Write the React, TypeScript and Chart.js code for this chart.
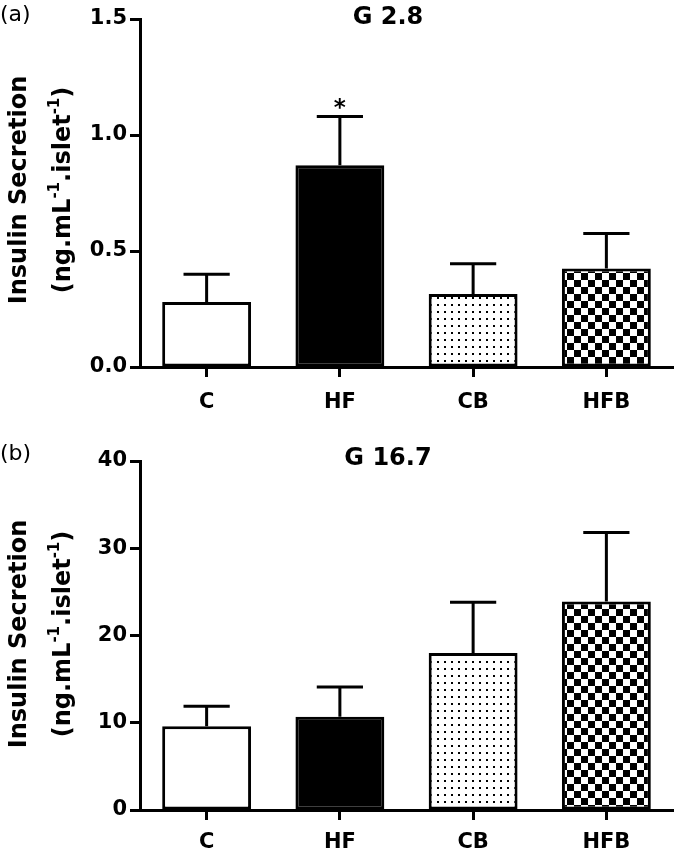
import React, { useEffect, useRef } from "react";
import { Chart, registerables } from "chart.js";

Chart.register(...registerables);

// ---------- data ----------
const categories = ["C", "HF", "CB", "HFB"];

const g28Means = [0.28, 0.87, 0.315, 0.425];
const g28Sem = [0.12, 0.21, 0.13, 0.15];
const g28Marks = ["", "*", "", ""];
const g28Ticks = [0, 0.5, 1.0, 1.5];

const g167Means = [9.6, 10.7, 18.0, 23.9];
const g167Sem = [2.3, 3.4, 5.8, 7.9];
const g167Marks = ["", "", "", ""];
const g167Ticks = [0, 10, 20, 30, 40];

const panelLabels = ["(a)", "(b)"];
const panelTitles = ["G 2.8", "G 16.7"];
const yTitleLine1 = "Insulin Secretion";
const yTitleLine2: [string, boolean][] = [
  ["(ng.mL", false],
  ["-1", true],
  [".islet", false],
  ["-1", true],
  [")", false],
];

const FAMILY = "'DejaVu Sans', 'Liberation Sans', sans-serif";

function makeDots(): CanvasPattern | string {
  const c = document.createElement("canvas");
  c.width = 7;
  c.height = 7;
  const x = c.getContext("2d");
  if (!x) return "#fff";
  x.fillStyle = "#fff";
  x.fillRect(0, 0, 7, 7);
  x.fillStyle = "#000";
  x.fillRect(3, 3, 2, 2);
  return x.createPattern(c, "repeat") || "#fff";
}

function makeChecker(): CanvasPattern | string {
  const c = document.createElement("canvas");
  c.width = 14;
  c.height = 14;
  const x = c.getContext("2d");
  if (!x) return "#000";
  x.fillStyle = "#fff";
  x.fillRect(0, 0, 14, 14);
  x.fillStyle = "#000";
  x.fillRect(0, 0, 7, 7);
  x.fillRect(7, 7, 7, 7);
  return x.createPattern(c, "repeat") || "#000";
}

type PanelCfg = {
  means: number[];
  sem: number[];
  marks: string[];
  ticks: number[];
  decimals: number;
  label: string;
  title: string;
  padTop: number;
  xHeight: number;
  xPad: number;
  labelBaseline: number;
  titleBaseline: number;
  yTitleCy: number;
};

function drawYTitle(ctx: CanvasRenderingContext2D, cy: number) {
  ctx.save();
  ctx.translate(0, cy);
  ctx.rotate(-Math.PI / 2);
  ctx.fillStyle = "#000";
  ctx.textBaseline = "alphabetic";
  ctx.textAlign = "center";
  const mainFont = `bold 24px ${FAMILY}`;
  const supFont = `bold 15px ${FAMILY}`;
  ctx.font = mainFont;
  ctx.fillText(yTitleLine1, 0, 26);
  let total = 0;
  const widths = yTitleLine2.map(([t, sup]) => {
    ctx.font = sup ? supFont : mainFont;
    const w = ctx.measureText(t).width;
    total += w;
    return w;
  });
  ctx.textAlign = "left";
  let u = -total / 2;
  yTitleLine2.forEach(([t, sup], i) => {
    ctx.font = sup ? supFont : mainFont;
    ctx.fillText(t, u, sup ? 59 : 70);
    u += widths[i];
  });
  ctx.restore();
}

function buildChart(canvas: HTMLCanvasElement, cfg: PanelCfg) {
  const fills = ["#ffffff", "#000000", makeDots(), makeChecker()];
  const decor = {
    id: "decor",
    afterDatasetsDraw(chart: any) {
      const ctx: CanvasRenderingContext2D = chart.ctx;
      const meta = chart.getDatasetMeta(0);
      const yScale = chart.scales.y;
      ctx.save();
      ctx.strokeStyle = "#000";
      ctx.lineWidth = 3;
      ctx.lineCap = "butt";
      meta.data.forEach((bar: any, i: number) => {
        const top = yScale.getPixelForValue(cfg.means[i] + cfg.sem[i]);
        const capHalf = bar.width * 0.26;
        ctx.beginPath();
        ctx.moveTo(bar.x, bar.y);
        ctx.lineTo(bar.x, top);
        ctx.moveTo(bar.x - capHalf, top);
        ctx.lineTo(bar.x + capHalf, top);
        ctx.stroke();
        if (cfg.marks[i]) {
          ctx.fillStyle = "#000";
          ctx.font = `bold 23px ${FAMILY}`;
          ctx.textAlign = "center";
          ctx.textBaseline = "alphabetic";
          ctx.fillText(cfg.marks[i], bar.x, top - 1);
        }
      });
      ctx.restore();
    },
    afterDraw(chart: any) {
      const ctx: CanvasRenderingContext2D = chart.ctx;
      ctx.save();
      ctx.fillStyle = "#000";
      ctx.textBaseline = "alphabetic";
      ctx.textAlign = "left";
      ctx.font = `22px ${FAMILY}`;
      ctx.fillText(cfg.label, 0, cfg.labelBaseline);
      ctx.textAlign = "center";
      ctx.font = `bold 24px ${FAMILY}`;
      ctx.fillText(cfg.title, 388, cfg.titleBaseline);
      ctx.restore();
      drawYTitle(ctx, cfg.yTitleCy);
    },
  };

  return new Chart(canvas, {
    type: "bar",
    data: {
      labels: categories,
      datasets: [
        {
          data: cfg.means,
          backgroundColor: fills as any,
          borderColor: "#000",
          borderWidth: 3,
          borderSkipped: false,
          barPercentage: 0.667,
          categoryPercentage: 1,
        },
      ],
    },
    options: {
      animation: false,
      responsive: false,
      maintainAspectRatio: false,
      devicePixelRatio: 1,
      layout: { padding: { top: cfg.padTop, right: 7, left: 0, bottom: 0 } },
      plugins: {
        legend: { display: false },
        tooltip: { enabled: false },
        title: { display: false },
      },
      scales: {
        x: {
          type: "category",
          offset: true,
          grid: {
            display: true,
            offset: false,
            drawOnChartArea: false,
            drawTicks: true,
            tickLength: 10,
            tickWidth: 3,
            tickColor: "#000",
          },
          border: { display: true, color: "#000", width: 3 },
          ticks: {
            color: "#000",
            padding: cfg.xPad,
            font: { family: FAMILY, size: 21, weight: "bold" },
            maxRotation: 0,
          },
          afterFit: (s: any) => {
            s.height = cfg.xHeight;
          },
        },
        y: {
          min: cfg.ticks[0],
          max: cfg.ticks[cfg.ticks.length - 1],
          grid: {
            display: true,
            drawOnChartArea: false,
            drawTicks: true,
            tickLength: 10,
            tickWidth: 3,
            tickColor: "#000",
          },
          border: { display: true, color: "#000", width: 3 },
          ticks: {
            color: "#000",
            padding: 3,
            font: { family: FAMILY, size: 21, weight: "bold" },
            callback: (v: any) => Number(v).toFixed(cfg.decimals),
          },
          afterBuildTicks: (s: any) => {
            s.ticks = cfg.ticks.map((v) => ({ value: v }));
          },
          afterFit: (s: any) => {
            s.width = 140;
          },
        },
      },
    } as any,
    plugins: [decor],
  });
}

export default function App() {
  const refA = useRef<HTMLCanvasElement>(null);
  const refB = useRef<HTMLCanvasElement>(null);

  useEffect(() => {
    document.body.style.margin = "0";
    const charts: Chart[] = [];
    if (refA.current) {
      charts.push(
        buildChart(refA.current, {
          means: g28Means,
          sem: g28Sem,
          marks: g28Marks,
          ticks: g28Ticks,
          decimals: 1,
          label: panelLabels[0],
          title: panelTitles[0],
          padTop: 19,
          xHeight: 60,
          xPad: 13,
          labelBaseline: 21,
          titleBaseline: 24,
          yTitleCy: 190,
        })
      );
    }
    if (refB.current) {
      charts.push(
        buildChart(refB.current, {
          means: g167Means,
          sem: g167Sem,
          marks: g167Marks,
          ticks: g167Ticks,
          decimals: 0,
          label: panelLabels[1],
          title: panelTitles[1],
          padTop: 34,
          xHeight: 44,
          xPad: 10,
          labelBaseline: 33,
          titleBaseline: 38,
          yTitleCy: 207,
        })
      );
    }
    return () => charts.forEach((c) => c.destroy());
  }, []);

  return (
    <div style={{ position: "relative", width: 680, height: 854 }}>
      <canvas
        ref={refA}
        width={680}
        height={427}
        style={{ position: "absolute", left: 0, top: 0, width: 680, height: 427, display: "block" }}
      />
      <canvas
        ref={refB}
        width={680}
        height={427}
        style={{ position: "absolute", left: 0, top: 427, width: 680, height: 427, display: "block" }}
      />
    </div>
  );
}
